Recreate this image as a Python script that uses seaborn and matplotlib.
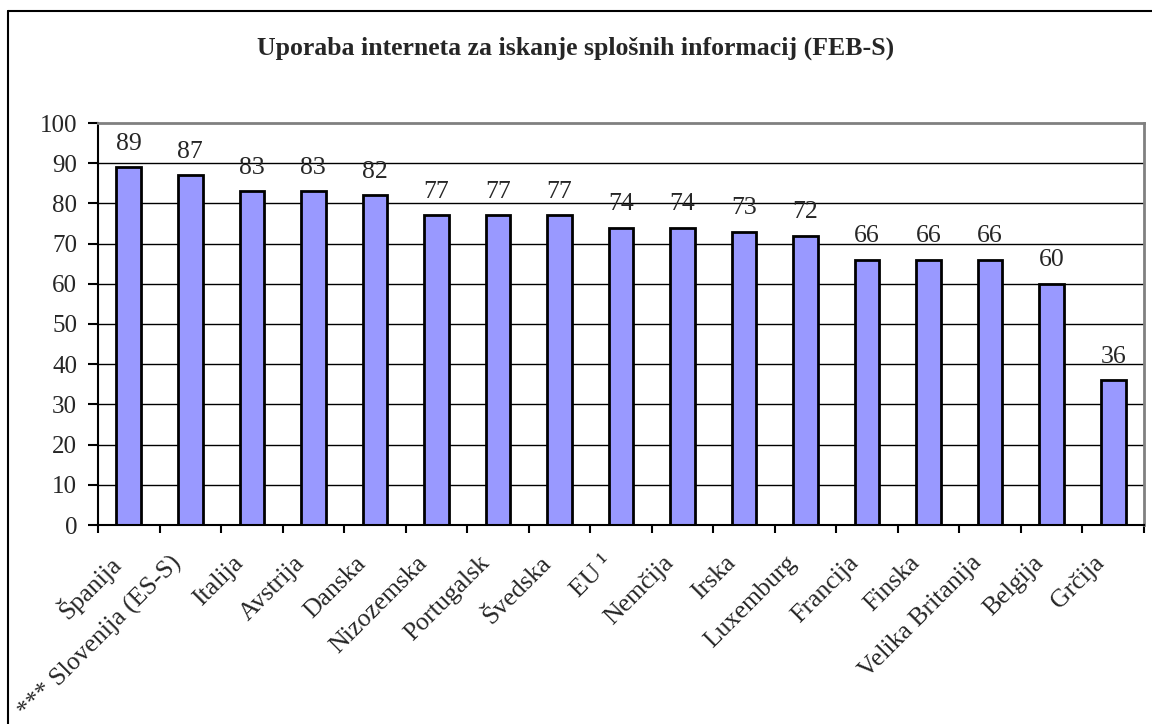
import matplotlib
matplotlib.use("Agg")
import matplotlib.pyplot as plt
import seaborn as sns
import pandas as pd
from matplotlib.lines import Line2D
from matplotlib.transforms import ScaledTranslation

categories = ["Španija", "*** Slovenija (ES-S)", "Italija", "Avstrija", "Danska",
              "Nizozemska", "Portugalsk", "Švedska", "EU ¹", "Nemčija", "Irska",
              "Luxemburg", "Francija", "Finska", "Velika Britanija", "Belgija", "Grčija"]
values = [89, 87, 83, 83, 82, 77, 77, 77, 74, 74, 73, 72, 66, 66, 66, 60, 36]
yticks = [0, 10, 20, 30, 40, 50, 60, 70, 80, 90, 100]
title = "Uporaba interneta za iskanje splošnih informacij (FEB-S)"

sns.set_theme(style="white")
plt.rcParams['font.family'] = ['Liberation Serif', 'DejaVu Serif']
fs = 18.5

df = pd.DataFrame({"cat": categories, "val": values})

fig = plt.figure(figsize=(11.52, 7.24), dpi=100)
ax = fig.add_axes([98/1152, 1-525/724, (1144-98)/1152, (525-123)/724])

sns.barplot(data=df, x="cat", y="val", ax=ax, color="#9999FF", saturation=1,
            width=0.4, edgecolor="black", linewidth=2)

ax.set_ylim(0, 100)
ax.set_xlim(-0.5, len(categories) - 0.5)
ax.set_yticks(yticks)
ax.set_yticklabels([str(t) for t in yticks], fontsize=18)
ax.set_xlabel("")
ax.set_ylabel("")

for t in yticks[1:-1]:
    ax.axhline(t, color="black", lw=1, zorder=0)

for i, v in enumerate(values):
    ax.annotate(str(v), (i, v), xytext=(0, 9), textcoords="offset points",
                ha="center", va="bottom", fontsize=fs)

ax.set_xticks(range(len(categories)))
ax.set_xticklabels(categories, rotation=45, ha="right", rotation_mode="anchor",
                   fontsize=fs, va="center")
ax.tick_params(axis="x", which="major", length=0, pad=25)
ax.set_xticks([i - 0.5 for i in range(len(categories) + 1)], minor=True)
ax.tick_params(axis="x", which="minor", length=6, width=1.5, color="black", direction="out", bottom=True)
ax.tick_params(axis="y", length=7, width=1.5, color="black", direction="out", left=True, pad=8)
off = ScaledTranslation(-12/100, 0, fig.dpi_scale_trans)
for lab in ax.get_xticklabels():
    lab.set_transform(lab.get_transform() + off)

for s in ["left", "bottom"]:
    ax.spines[s].set_color("black")
    ax.spines[s].set_linewidth(1.5)
for s in ["top", "right"]:
    ax.spines[s].set_color("#808080")
    ax.spines[s].set_linewidth(2)
    ax.spines[s].set_visible(True)

fig.text(576/1152, 1-48/724, title, ha="center", va="center", fontsize=fs, fontweight="bold")

fig.add_artist(Line2D([8/1152, 8/1152], [0, 1-11/724], transform=fig.transFigure, color="black", lw=1.5))
fig.add_artist(Line2D([8/1152, 1], [1-11/724, 1-11/724], transform=fig.transFigure, color="black", lw=1.5))

fig.savefig("out.png", dpi=100, facecolor="white")
